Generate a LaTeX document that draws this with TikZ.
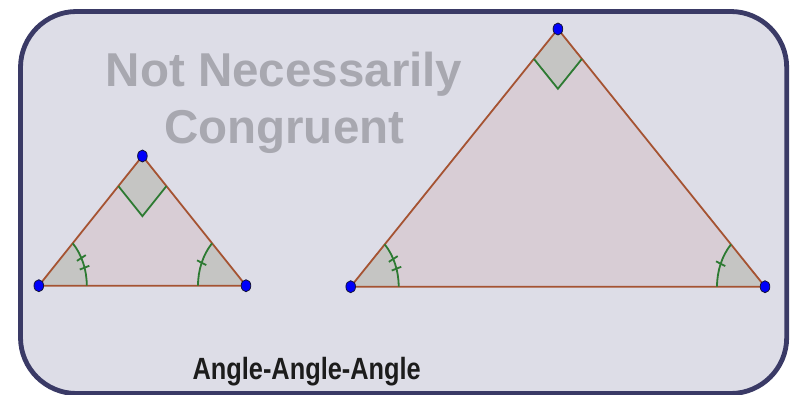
\documentclass[tikz,border=0pt]{standalone}
\usepackage{fontspec}
\setmainfont{Liberation Sans}
\usetikzlibrary{calc}
\definecolor{framebg}{RGB}{221,221,231}
\definecolor{frameln}{RGB}{58,58,102}
\definecolor{trifill}{RGB}{216,205,213}
\definecolor{angfill}{RGB}{197,197,195}
\definecolor{edgecol}{RGB}{165,83,50}
\definecolor{markcol}{RGB}{45,122,50}
\definecolor{ghost}{RGB}{168,168,176}
\definecolor{labelcol}{RGB}{28,28,28}
\definecolor{dotcol}{RGB}{0,0,250}
\definecolor{dotrim}{RGB}{20,20,60}
\begin{document}
\begin{tikzpicture}[x=1pt,y=1pt,
  edge/.style={draw=edgecol,line width=1.8pt,line join=round},
  angsector/.style={fill=angfill},
  anglemark/.style={draw=markcol,line width=1.8pt},
  vdot/.style={fill=dotcol,draw=dotrim,line width=0.8pt},
  ghosttext/.style={text=ghost,font=\fontsize{47.5}{50}\selectfont\bfseries,anchor=base,inner sep=0pt},
  labeltext/.style={text=labelcol,font=\fontsize{30.7}{32}\selectfont\bfseries,anchor=base,inner sep=0pt}]
\useasboundingbox (0,0) rectangle (794,394);
\fill[white] (0,0) rectangle (794,394);
% frame
\draw[fill=framebg,draw=frameln,line width=4.8pt,rounded corners=56pt] (20.5,0.5) rectangle (786.7,382.5);

% title text
\node[ghosttext] (t1) at (284.2,307.3) {Not Necessarily};
\node[ghosttext] (t2) at (284.2,250.7) {Congruent};
\node[labeltext] (lab) at (306.7,14.7) {\scalebox{0.826}[1]{Angle-Angle-Angle}};

% vertices
\coordinate (sL) at (38.8,108.3);
\coordinate (sR) at (246,108.3);
\coordinate (sT) at (142.4,238);
\coordinate (bL) at (350.7,107.3);
\coordinate (bR) at (765,107.3);
\coordinate (bT) at (557.9,365);

% triangle fills
\fill[trifill] (sL) -- (sR) -- (sT) -- cycle;
\fill[trifill] (bL) -- (bR) -- (bT) -- cycle;

% angle sectors
\foreach \v in {sL,bL}{
  \fill[angsector] (\v) -- ++(48,0) arc[start angle=0,end angle=45,x radius=48,y radius=60] -- cycle;
}
\foreach \v in {sR,bR}{
  \fill[angsector] (\v) -- ++(-48,0) arc[start angle=180,end angle=135,x radius=48,y radius=60] -- cycle;
}
% right-angle marks
\coordinate (sA) at ($(sT)!0.232!(sL)$);
\coordinate (sB) at ($(sT)!0.232!(sR)$);
\coordinate (sC) at ($(sA)+(sB)-(sT)$);
\coordinate (bA) at ($(bT)!0.116!(bL)$);
\coordinate (bB) at ($(bT)!0.116!(bR)$);
\coordinate (bC) at ($(bA)+(bB)-(bT)$);
\fill[angsector] (sT) -- (sA) -- (sC) -- (sB) -- cycle;
\fill[angsector] (bT) -- (bA) -- (bC) -- (bB) -- cycle;

% edges
\draw[edge] (sL) -- (sR) -- (sT) -- cycle;
\draw[edge] (bL) -- (bR) -- (bT) -- cycle;

% angle arcs
\foreach \v in {sL,bL}{
  \draw[anglemark] ($(\v)+(48,0)$) arc[start angle=0,end angle=45,x radius=48,y radius=60];
  \foreach \t in {17.5,27.5}{
    \draw[anglemark] ($(\v)+(\t:43 and 53.75)$) -- ($(\v)+(\t:53 and 66.25)$);
  }
}
\foreach \v in {sR,bR}{
  \draw[anglemark] ($(\v)+(-48,0)$) arc[start angle=180,end angle=135,x radius=48,y radius=60];
  \draw[anglemark] ($(\v)+(157.5:43 and 53.75)$) -- ($(\v)+(157.5:53 and 66.25)$);
}
\draw[anglemark,line join=miter] (sA) -- (sC) -- (sB);
\draw[anglemark,line join=miter] (bA) -- (bC) -- (bB);

% vertex dots
\foreach \v in {sL,sR,sT,bL,bR,bT}{
  \path[vdot] (\v) ellipse[x radius=4.8,y radius=6];
}
\end{tikzpicture}
\end{document}
